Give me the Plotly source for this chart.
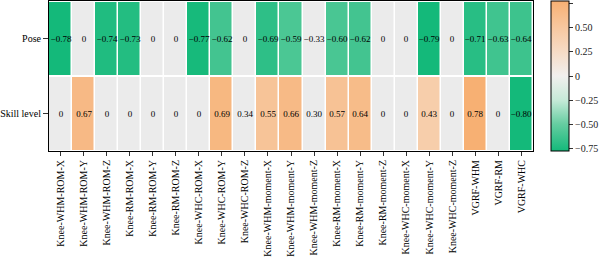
import plotly.graph_objects as go
import numpy as np

features = ["Knee-WHM-ROM-X", "Knee-WHM-ROM-Y", "Knee-WHM-ROM-Z",
            "Knee-RM-ROM-X", "Knee-RM-ROM-Y", "Knee-RM-ROM-Z",
            "Knee-WHC-ROM-X", "Knee-WHC-ROM-Y", "Knee-WHC-ROM-Z",
            "Knee-WHM-moment-X", "Knee-WHM-moment-Y", "Knee-WHM-moment-Z",
            "Knee-RM-moment-X", "Knee-RM-moment-Y", "Knee-RM-moment-Z",
            "Knee-WHC-moment-X", "Knee-WHC-moment-Y", "Knee-WHC-moment-Z",
            "VGRF-WHM", "VGRF-RM", "VGRF-WHC"]
rows = ["Pose", "Skill level"]
pose = [-0.78, 0, -0.74, -0.73, 0, 0, -0.77, -0.62, 0, -0.69, -0.59, -0.33,
        -0.60, -0.62, 0, 0, -0.79, 0, -0.71, -0.63, -0.64]
skill = [0, 0.67, 0, 0, 0, 0, 0, 0.69, 0.34, 0.55, 0.66, 0.30, 0.57, 0.64,
         0, 0, 0.43, 0, 0.78, 0, -0.80]
cb_ticks = [-0.75, -0.5, -0.25, 0, 0.25, 0.5, 0.75]

z = np.array([pose, skill], dtype=float)
threshold = 0.4
weak = np.abs(z) < threshold
z_col = np.where(weak, np.nan, z)
z_gray = np.where(weak, 0.0, np.nan)

def fmt(v):
    if v == 0:
        return "0"
    s = f"{v:.2f}"
    return s.replace("-", "\u2212")

text = [[fmt(v) for v in r] for r in z.tolist()]

serif = "Liberation Serif, Times New Roman, serif"

colorscale = [
    [0.0, "#14b97a"],
    [0.18, "#66cda1"],
    [0.34, "#c6ead8"],
    [0.5, "#f1f0ee"],
    [0.66, "#f6dcc6"],
    [0.82, "#f7c8a0"],
    [1.0, "#f7b073"],
]

fig = go.Figure()
fig.add_trace(go.Heatmap(
    x=features, y=rows, z=z_gray,
    colorscale=[[0, "#ebebeb"], [1, "#ebebeb"]],
    showscale=False, xgap=1.5, ygap=2, hoverinfo="skip",
))
fig.add_trace(go.Heatmap(
    x=features, y=rows, z=z_col,
    colorscale=colorscale, zmin=-0.78, zmax=0.78,
    xgap=1.5, ygap=2,
    colorbar=dict(
        x=1.038, xanchor="left", y=0.5, yanchor="middle",
        len=1.0, lenmode="fraction", thickness=18,
        xpad=0, ypad=0,
        outlinecolor="black", outlinewidth=1,
        tickvals=cb_ticks,
        ticktext=[fmt(t) for t in cb_ticks],
        ticks="outside", ticklen=4, tickcolor="#333",
        tickfont=dict(family=serif, size=10, color="#222"),
    ),
))
fig.add_trace(go.Heatmap(
    x=features, y=rows, z=z, text=text, texttemplate="%{text}",
    textfont=dict(family=serif, size=9, color="black"),
    colorscale=[[0, "rgba(0,0,0,0)"], [1, "rgba(0,0,0,0)"]],
    showscale=False, hoverinfo="skip",
))

fig.update_layout(
    width=600, height=257,
    margin=dict(l=45, r=63, t=0, b=105),
    paper_bgcolor="white", plot_bgcolor="white",
    showlegend=False,
)
fig.update_xaxes(
    tickangle=-90, tickfont=dict(family=serif, size=10, color="black"),
    ticks="outside", ticklen=4, tickcolor="#333",
    showline=True, linecolor="black", linewidth=1, mirror=True,
    showgrid=False, zeroline=False,
)
fig.update_yaxes(
    autorange="reversed",
    tickfont=dict(family=serif, size=10, color="black"),
    ticks="outside", ticklen=5, tickcolor="#333",
    showline=True, linecolor="black", linewidth=1, mirror=True,
    showgrid=False, zeroline=False,
)

fig.write_html("out.html")
